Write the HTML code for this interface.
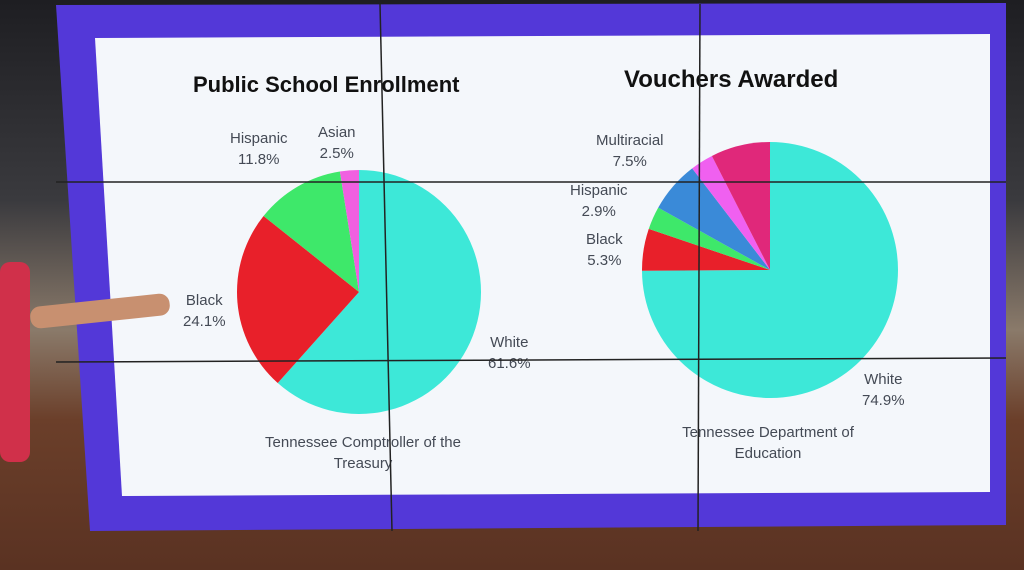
<!DOCTYPE html>
<html><head><meta charset="utf-8">
<style>
html,body{margin:0;padding:0;width:1024px;height:570px;overflow:hidden;background:#2a2a2e;font-family:"Liberation Sans",sans-serif}
#scene{position:absolute;left:0;top:0;width:1024px;height:570px;background:linear-gradient(#1e1e22 0,#3a3a3e 200px,#8a7a6a 330px,#6b3f2a 420px,#5a3222 570px)}
#frame{position:absolute;left:0;top:0;width:1024px;height:570px;background:#5338d8;clip-path:polygon(56px 5px,1006px 3px,1006px 525px,90px 531px)}
#panel{position:absolute;left:0;top:0;width:1024px;height:570px;background:#f4f7fb;clip-path:polygon(95px 38px,990px 34px,990px 492px,122px 496px)}
.t{position:absolute;color:#444a55;font-size:15px;text-align:center;line-height:21px}
.title{position:absolute;font-weight:bold;color:#111;font-size:22px}
</style></head><body>
<div id="scene"></div>
<div id="frame"></div>
<div id="panel"></div>
<div style="position:absolute;left:0;top:262px;width:30px;height:200px;background:#d0304a;border-radius:10px"></div>
<div style="position:absolute;left:30px;top:300px;width:140px;height:22px;background:#c89070;border-radius:10px;transform:rotate(-6deg)"></div>
<svg id="pies" width="1024" height="570" style="position:absolute;left:0;top:0"></svg>
<div class="title" style="left:193px;top:72px">Public School Enrollment</div>
<div class="title" style="left:624px;top:66px;font-size:24px">Vouchers Awarded</div>
<div class="t" style="left:230px;top:128px">Hispanic<br>11.8%</div>
<div class="t" style="left:318px;top:122px">Asian<br>2.5%</div>
<div class="t" style="left:183px;top:290px">Black<br>24.1%</div>
<div class="t" style="left:488px;top:332px">White<br>61.6%</div>
<div class="t" style="left:253px;top:432px;width:220px">Tennessee Comptroller of the<br>Treasury</div>
<div class="t" style="left:596px;top:130px">Multiracial<br>7.5%</div>
<div class="t" style="left:570px;top:180px">Hispanic<br>2.9%</div>
<div class="t" style="left:586px;top:229px">Black<br>5.3%</div>
<div class="t" style="left:862px;top:369px">White<br>74.9%</div>
<div class="t" style="left:668px;top:422px;width:200px">Tennessee Department of<br>Education</div>
<svg width="1024" height="570" style="position:absolute;left:0;top:0">
<line x1="380" y1="4" x2="392" y2="531" stroke="#222" stroke-width="1.5"/>
<line x1="700" y1="4" x2="698" y2="531" stroke="#222" stroke-width="1.5"/>
<line x1="56" y1="182" x2="1006" y2="182" stroke="#222" stroke-width="1.5"/>
<line x1="56" y1="362" x2="1006" y2="358" stroke="#222" stroke-width="1.5"/>
</svg>
<script>
const leftCategories=["White","Black","Hispanic","Asian"];
const leftValues=[61.6,24.1,11.8,2.5];
const leftColors=["#3de8d8","#e8202a","#3ee86a","#f060e0"];
const rightCategories=["White","Black","Hispanic","Asian","Other","Multiracial"];
const rightValues=[74.9,5.3,2.9,6.5,2.9,7.5];
const rightColors=["#3de8d8","#e8202a","#3ee86a","#3a8ad8","#f060f0","#e0287a"];
const NS="http://www.w3.org/2000/svg";
const svg=document.getElementById('pies');
function pie(vals,cols,cats,cx,cy,r,prefix){
  const total=vals.reduce((a,b)=>a+b,0);let acc=0;
  vals.forEach((v,i)=>{
    const a0=acc/total*2*Math.PI;acc+=v;const a1=acc/total*2*Math.PI;
    const x0=cx+r*Math.sin(a0),y0=cy-r*Math.cos(a0),x1=cx+r*Math.sin(a1),y1=cy-r*Math.cos(a1);
    const p=document.createElementNS(NS,'path');
    p.setAttribute('d',`M${cx},${cy}L${x0},${y0}A${r},${r} 0 ${(a1-a0)>Math.PI?1:0} 1 ${x1},${y1}Z`);
    p.setAttribute('fill',cols[i]);
    
    
    svg.appendChild(p);
  });
}
pie(leftValues,leftColors,leftCategories,359,292,122,'left');
pie(rightValues,rightColors,rightCategories,770,270,128,'right');
</script>
</body></html>
